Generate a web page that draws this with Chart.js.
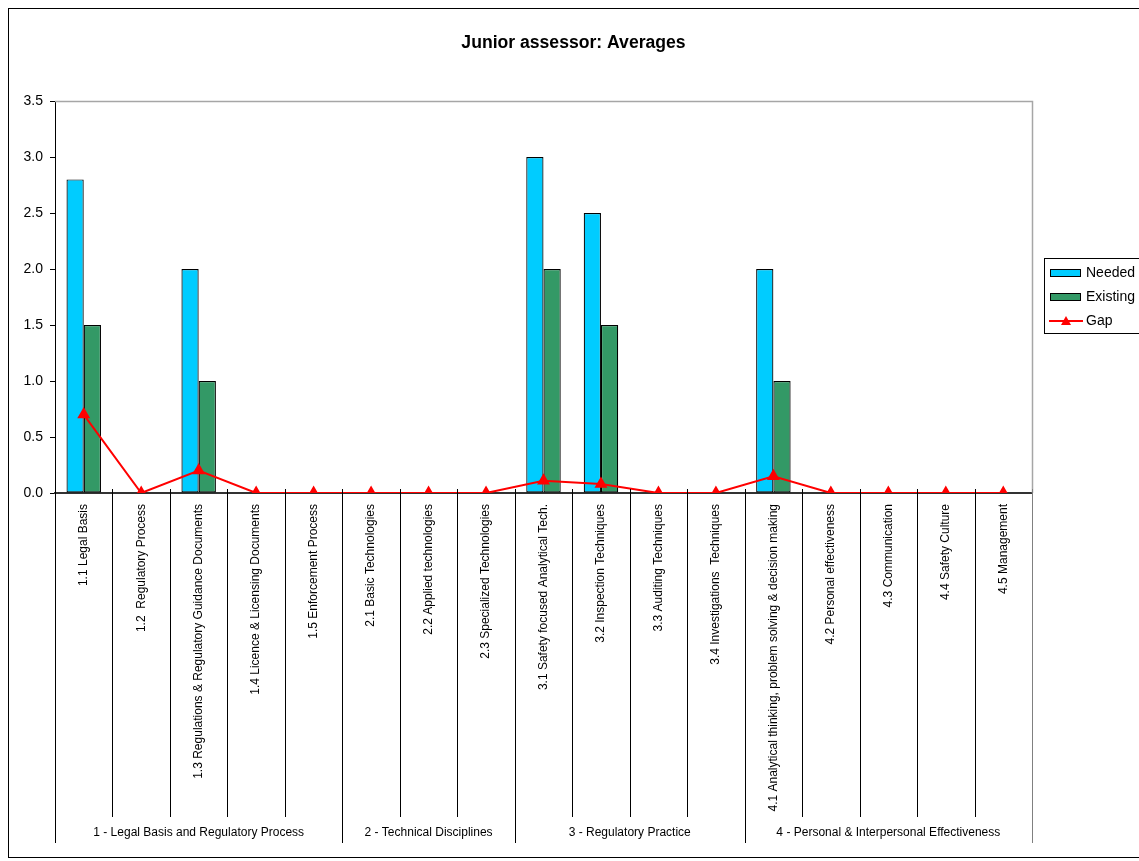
<!DOCTYPE html>
<html>
<head>
<meta charset="utf-8">
<title>Junior assessor: Averages</title>
<script src="https://cdn.jsdelivr.net/npm/chart.js@4.4.1/dist/chart.umd.min.js"></script>
<style>
    html, body { margin: 0; padding: 0; background: #FFFFFF; overflow: hidden; }
    #wrap { position: relative; width: 1139px; height: 861px; }
</style>
</head>
<body>
<div id="wrap"><canvas id="chart" width="1139" height="861"></canvas></div>
<script>
    // Dữ liệu
    const categories = [
        '1.1 Legal Basis',
        '1.2  Regulatory Process',
        '1.3 Regulations & Regulatory Guidance Documents',
        '1.4 Licence & Licensing Documents',
        '1.5 Enforcement Process',
        '2.1 Basic Technologies',
        '2.2 Applied technologies',
        '2.3 Specialized Technologies',
        '3.1 Safety focused Analytical Tech.',
        '3.2 Inspection Techniques',
        '3.3 Auditing Techniques',
        '3.4 Investigations  Techniques',
        '4.1 Analytical thinking, problem solving & decision making',
        '4.2 Personal effectiveness',
        '4.3 Communication',
        '4.4 Safety Culture',
        '4.5 Management'
    ];
    const groupNames = [
        '1 - Legal Basis and Regulatory Process',
        '2 - Technical Disciplines',
        '3 - Regulatory Practice',
        '4 - Personal & Interpersonal Effectiveness'
    ];
    const groupSizes = [5, 3, 4, 5];
    const needed   = [2.8, 0, 2.0, 0, 0, 0, 0, 0, 3.0, 2.5, 0, 0, 2.0, 0, 0, 0, 0];
    const existing = [1.5, 0, 1.0, 0, 0, 0, 0, 0, 2.0, 1.5, 0, 0, 1.0, 0, 0, 0, 0];
    const gap      = [0.7, 0, 0.2, 0, 0, 0, 0, 0, 0.11, 0.08, 0, 0, 0.15, 0, 0, 0, 0];
    const yTicks   = [0, 0.5, 1.0, 1.5, 2.0, 2.5, 3.0, 3.5];

    const FONT = 'Arial, "Liberation Sans", sans-serif';
    const PLOT_BOTTOM = 493;   // y của trục 0
    const SEP_BOTTOM = 817;    // vạch chia từng mục
    const GROUP_BOTTOM = 843;  // vạch chia nhóm
    const GROUP_LABEL_Y = 833;

    // Khung ngoài, viền vùng vẽ, vạch chia và nhãn nhóm
    const framePlugin = {
        id: 'excelFrame',
        beforeDraw(chart) {
            const ctx = chart.ctx;
            ctx.save();
            ctx.fillStyle = '#FFFFFF';
            ctx.fillRect(0, 0, chart.width, chart.height);
            ctx.strokeStyle = '#000000';
            ctx.lineWidth = 1;
            ctx.strokeRect(8.5, 8.5, 1200, 849);
            ctx.restore();
        },
        afterDraw(chart) {
            const ctx = chart.ctx;
            const x = chart.scales.x;
            const area = chart.chartArea;
            const n = chart.data.labels.length;
            const w = (x.right - x.left) / n;
            ctx.save();

            // viền xám trên + phải
            ctx.strokeStyle = '#A6A6A6';
            ctx.lineWidth = 1.5;
            ctx.beginPath();
            ctx.moveTo(area.left, area.top + 0.5);
            ctx.lineTo(area.right + 0.5, area.top + 0.5);
            ctx.lineTo(area.right + 0.5, area.bottom);
            ctx.stroke();

            // vạch chia
            const groupEdges = [0];
            groupSizes.forEach((s, i) => groupEdges.push(groupEdges[i] + s));
            ctx.lineWidth = 1;
            for (let i = 0; i <= n; i++) {
                const px = Math.round(x.left + i * w) + 0.5;
                const isGroup = groupEdges.includes(i);
                ctx.strokeStyle = (i === n) ? '#808080' : '#000000';
                ctx.beginPath();
                ctx.moveTo(px, i === 0 ? area.bottom : area.bottom - 4);
                ctx.lineTo(px, isGroup ? GROUP_BOTTOM : SEP_BOTTOM);
                ctx.stroke();
            }

            // nhãn nhóm
            ctx.fillStyle = '#000000';
            ctx.font = '12px ' + FONT;
            ctx.textAlign = 'center';
            ctx.textBaseline = 'middle';
            groupNames.forEach((name, i) => {
                const cx = x.left + (groupEdges[i] + groupEdges[i + 1]) / 2 * w;
                ctx.fillText(name, cx, GROUP_LABEL_Y);
            });
            ctx.restore();
        }
    };

    // Chú giải có khung như Excel
    const legendPlugin = {
        id: 'boxLegend',
        afterDraw(chart) {
            const ctx = chart.ctx;
            const bx = 1044.5, by = 258.5, bw = 150, bh = 75;
            ctx.save();
            ctx.strokeStyle = '#000000';
            ctx.lineWidth = 1;
            ctx.strokeRect(bx, by, bw, bh);
            ctx.font = '14px ' + FONT;
            ctx.textBaseline = 'middle';
            ctx.textAlign = 'left';
            chart.data.datasets.forEach((ds, i) => {
                const cy = 273 + i * 24;
                if (ds.type === 'line') {
                    ctx.strokeStyle = ds.borderColor;
                    ctx.lineWidth = 2;
                    ctx.beginPath();
                    ctx.moveTo(1049, cy);
                    ctx.lineTo(1083, cy);
                    ctx.stroke();
                    ctx.fillStyle = ds.borderColor;
                    ctx.beginPath();
                    ctx.moveTo(1066, cy - 5);
                    ctx.lineTo(1071, cy + 4);
                    ctx.lineTo(1061, cy + 4);
                    ctx.closePath();
                    ctx.fill();
                } else {
                    ctx.fillStyle = ds.backgroundColor;
                    ctx.fillRect(1050, cy - 3.5, 30, 7);
                    ctx.strokeStyle = '#000000';
                    ctx.lineWidth = 1;
                    ctx.strokeRect(1050.5, cy - 3.5, 30, 7);
                }
                ctx.fillStyle = '#000000';
                ctx.fillText(ds.label, 1086, cy);
            });
            ctx.restore();
        }
    };

    new Chart(document.getElementById('chart'), {
        data: {
            labels: categories,
            datasets: [
                {
                    type: 'bar', label: 'Needed', data: needed,
                    backgroundColor: '#00CCFF', borderColor: '#000000', borderWidth: 1.2,
                    borderSkipped: false,
                    categoryPercentage: 0.6, barPercentage: 1.0, order: 1
                },
                {
                    type: 'bar', label: 'Existing', data: existing,
                    backgroundColor: '#339966', borderColor: '#000000', borderWidth: 1.2,
                    borderSkipped: false,
                    categoryPercentage: 0.6, barPercentage: 1.0, order: 1
                },
                {
                    type: 'line', label: 'Gap', data: gap,
                    borderColor: '#FF0000', backgroundColor: '#FF0000', borderWidth: 2,
                    pointStyle: 'triangle', pointRadius: 5.5, pointBackgroundColor: '#FF0000',
                    pointBorderColor: '#FF0000', tension: 0, fill: false, order: 0
                }
            ]
        },
        options: {
            responsive: false,
            animation: false,
            layout: { padding: { left: 8, top: 8, right: 0, bottom: 0 } },
            plugins: {
                legend: { display: false },
                tooltip: { enabled: false },
                title: {
                    display: true,
                    text: 'Junior assessor: Averages',
                    color: '#000000',
                    font: { family: FONT, size: 17.6, weight: 'bold', lineHeight: 1.2 },
                    padding: { top: 24.4, bottom: 47.5 }
                }
            },
            scales: {
                x: {
                    type: 'category',
                    offset: true,
                    grid: { display: false },
                    border: { display: true, color: '#333333', width: 2 },
                    ticks: {
                        autoSkip: false, maxRotation: 90, minRotation: 90,
                        padding: 3, color: '#000000',
                        font: { family: FONT, size: 12 }
                    },
                    afterFit(s) { s.height = 861 - PLOT_BOTTOM; }
                },
                y: {
                    min: 0, max: 3.5,
                    afterBuildTicks(s) { s.ticks = yTicks.map(v => ({ value: v })); },
                    grid: { drawOnChartArea: false, tickLength: 5, color: '#000000' },
                    border: { display: true, color: '#000000', width: 1 },
                    ticks: {
                        padding: 7, color: '#000000',
                        font: { family: FONT, size: 14 },
                        callback: v => Number(v).toFixed(1)
                    },
                    afterFit(s) { s.width = 47; }
                },
                yR: {
                    type: 'linear', position: 'right', display: true,
                    grid: { display: false }, border: { display: false },
                    ticks: { display: false },
                    afterFit(s) { s.width = 107; }
                }
            }
        },
        plugins: [framePlugin, legendPlugin]
    });
</script>
</body>
</html>
